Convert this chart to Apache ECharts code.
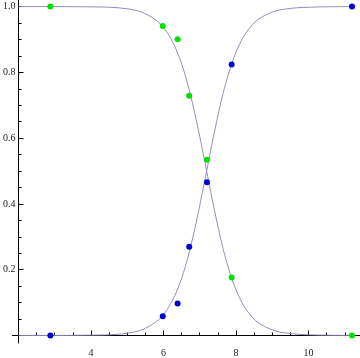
<!DOCTYPE html>
<html>
<head>
<meta charset="utf-8">
<script src="https://cdn.jsdelivr.net/npm/echarts@6/dist/echarts.min.js"></script>
<style>html,body{margin:0;padding:0;background:#fff}#c{width:360px;height:358px}</style>
</head>
<body>
<div id="c"></div>
<script>
// fitted curves
var curveX     = [2.0, 3.0, 4.0, 4.5, 5.0, 5.4, 5.8, 6.0, 6.2, 6.4, 6.6, 6.8, 7.0, 7.1, 7.19, 7.3, 7.4, 7.6, 7.8, 8.0, 8.2, 8.4, 8.6, 9.0, 9.4, 10.0, 11.2];
var greenCurve = [1.0, 1.0, 0.999, 0.998, 0.993, 0.983, 0.958, 0.936, 0.903, 0.856, 0.791, 0.706, 0.605, 0.55, 0.5, 0.438, 0.384, 0.284, 0.202, 0.139, 0.093, 0.062, 0.040, 0.017, 0.007, 0.002, 0.0];
var blueCurve  = [0.0, 0.0, 0.001, 0.002, 0.007, 0.017, 0.042, 0.064, 0.097, 0.144, 0.209, 0.294, 0.395, 0.45, 0.5, 0.562, 0.616, 0.716, 0.798, 0.861, 0.907, 0.938, 0.960, 0.983, 0.993, 0.998, 1.0];
// data points
var ptX       = [2.88, 5.98, 6.39, 6.71, 7.20, 7.88, 11.2];
var greenPts  = [1.0, 0.941, 0.901, 0.729, 0.534, 0.176, 0.0];
var bluePts   = [0.0, 0.058, 0.097, 0.270, 0.466, 0.824, 1.0];
// ticks
var xMajor = [4, 6, 8, 10];
var xMinor = [2.5, 3, 3.5, 4.5, 5, 5.5, 6.5, 7, 7.5, 8.5, 9, 9.5, 10.5, 11];
var yMajor = [0.2, 0.4, 0.6, 0.8, 1.0];
var yMinor = [0.05, 0.1, 0.15, 0.25, 0.3, 0.35, 0.45, 0.5, 0.55, 0.65, 0.7, 0.75, 0.85, 0.9, 0.95];

function zip(xs, ys) { return xs.map(function (x, i) { return [x, ys[i]]; }); }

var XMIN = 1.836, XMAX = 11.42, YMIN = -0.023, YMAX = 1.02;
var axisCol = '#000';
var labelStyle = { fontFamily: "'Liberation Serif', 'DejaVu Serif', serif", fontSize: 10, color: '#222' };

var chart = echarts.init(document.getElementById('c'));
chart.setOption({
  animation: false,
  grid: { left: 10, right: 0, top: 0, bottom: 8, containLabel: false },
  xAxis: [
    {
      type: 'value', min: XMIN, max: XMAX,
      axisLine: { show: true, onZero: true, onZeroAxisIndex: 0, lineStyle: { color: axisCol, width: 1 } },
      axisTick: { show: true, inside: true, length: 5, customValues: xMajor, lineStyle: { color: axisCol } },
      axisLabel: Object.assign({ show: true, margin: 5, customValues: xMajor, formatter: function (v) { return String(v); } }, labelStyle),
      splitLine: { show: false }
    },
    {
      type: 'value', min: XMIN, max: XMAX, position: 'bottom',
      axisLine: { show: false, onZero: true, onZeroAxisIndex: 0 },
      axisTick: { show: true, inside: true, length: 3, customValues: xMinor, lineStyle: { color: axisCol } },
      axisLabel: { show: false },
      splitLine: { show: false }
    }
  ],
  yAxis: [
    {
      type: 'value', min: YMIN, max: YMAX, offset: -6,
      axisLine: { show: true, onZero: false, lineStyle: { color: axisCol, width: 1 } },
      axisTick: { show: true, inside: true, length: 5, customValues: yMajor, lineStyle: { color: axisCol } },
      axisLabel: Object.assign({ show: true, margin: 3, customValues: yMajor, formatter: function (v) { return v.toFixed(1); } }, labelStyle),
      splitLine: { show: false }
    },
    {
      type: 'value', min: YMIN, max: YMAX, offset: -6, position: 'left',
      axisLine: { show: false, onZero: false },
      axisTick: { show: true, inside: true, length: 3, customValues: yMinor, lineStyle: { color: axisCol } },
      axisLabel: { show: false },
      splitLine: { show: false }
    }
  ],
  series: [
    { type: 'line', data: zip(curveX, greenCurve), smooth: 0.4, showSymbol: false, lineStyle: { color: '#8e8ebd', width: 1 }, z: 2 },
    { type: 'line', data: zip(curveX, blueCurve), smooth: 0.4, showSymbol: false, lineStyle: { color: '#8e8ebd', width: 1 }, z: 2 },
    { type: 'scatter', data: zip(ptX, greenPts), symbolSize: 6, itemStyle: { color: '#00e000', opacity: 1 }, z: 5, clip: false },
    { type: 'scatter', data: zip(ptX, bluePts), symbolSize: 6, itemStyle: { color: '#0000d0', opacity: 1 }, z: 5, clip: false }
  ]
});
</script>
</body>
</html>
